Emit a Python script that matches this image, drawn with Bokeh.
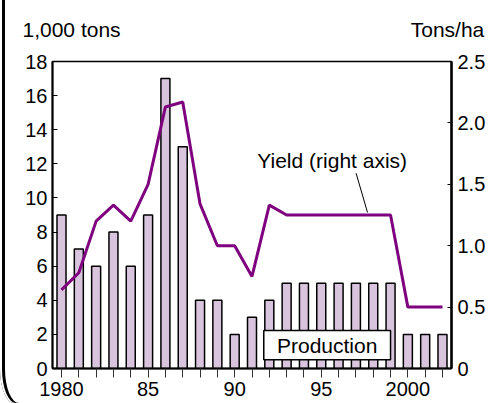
from bokeh.plotting import figure
from bokeh.models import Range1d, LinearAxis, FixedTicker, Label
from bokeh.embed import file_html
from bokeh.resources import INLINE

years = list(range(1980, 2003))
production = [9, 7, 6, 8, 6, 9, 17, 13, 4, 4, 2, 3, 4, 5, 5, 5, 5, 5, 5, 5, 2, 2, 2]
yield_t = [0.64, 0.78, 1.2, 1.33, 1.2, 1.5, 2.13, 2.17, 1.34, 1.0, 1.0, 0.75, 1.33,
           1.25, 1.25, 1.25, 1.25, 1.25, 1.25, 1.25, 0.5, 0.5, 0.5]
left_ticks = [0, 2, 4, 6, 8, 10, 12, 14, 16, 18]
right_ticks = [0, 0.5, 1.0, 1.5, 2.0, 2.5]
x_labels = {1980: "1980", 1985: "85", 1990: "90", 1995: "95", 2000: "2000"}
left_unit = "1,000 tons"
right_unit = "Tons/ha"

FONT = "Liberation Sans"
PURPLE = "#7F007F"
BAR = "#D8C5DD"

p = figure(width=491, height=403, output_backend="svg", toolbar_location=None,
           x_range=Range1d(1979.48, 2002.52), y_range=Range1d(0, 18),
           min_border_left=52, min_border_right=40, min_border_top=61, min_border_bottom=35)
p.extra_y_ranges = {"yield": Range1d(0, 2.5)}
p.xgrid.visible = False
p.ygrid.visible = False
p.outline_line_color = "black"
p.outline_line_width = 1.5
p.background_fill_color = "white"
p.border_fill_color = None
p.styles = {"box-shadow": "inset 2px 0 0 white, inset 5px 0 0 black",
            "border-bottom-left-radius": "14px 34px"}

p.vbar(x=years, top=production, width=0.52, bottom=0, fill_color=BAR,
       line_color="black", line_width=1.5)
p.line(x=years, y=yield_t, y_range_name="yield", line_color=PURPLE, line_width=3)

# left axis
ax = p.yaxis[0]
ax.ticker = FixedTicker(ticks=left_ticks)
ax.major_tick_in = 5
ax.major_tick_out = 0
ax.minor_tick_line_color = None
ax.major_label_standoff = 5
ax.major_label_text_font = FONT
ax.major_label_text_font_size = "20px"
ax.major_label_text_color = "black"
ax.axis_line_width = 2
ax.axis_line_color = "black"

# right axis
rax = LinearAxis(y_range_name="yield", ticker=FixedTicker(ticks=right_ticks))
rax.major_label_overrides = {0: "0", 0.5: "0.5", 1.0: "1.0", 1.5: "1.5", 2.0: "2.0", 2.5: "2.5"}
rax.major_tick_in = 4
rax.major_tick_out = 0
rax.minor_tick_line_color = None
rax.major_label_standoff = 6
rax.major_label_text_font = FONT
rax.major_label_text_font_size = "20px"
rax.major_label_text_color = "black"
rax.axis_line_width = 2.5
rax.axis_line_color = "black"
p.add_layout(rax, "right")

# bottom axis
bx = p.xaxis[0]
bx.ticker = FixedTicker(ticks=years)
bx.major_label_overrides = {y: x_labels.get(y, "") for y in years}
bx.major_tick_in = 0
bx.major_tick_out = 9
bx.major_tick_line_color = "#333333"
bx.minor_tick_line_color = None
bx.major_label_standoff = 4
bx.major_label_text_font = FONT
bx.major_label_text_font_size = "20px"
bx.major_label_text_color = "black"
bx.axis_line_width = 2
bx.axis_line_color = "black"

# unit labels, shown as the labels of an invisible top axis
uax = LinearAxis(ticker=FixedTicker(ticks=[1980.58, 2002.29]))
uax.major_label_overrides = {1980.58: left_unit, 2002.29: right_unit}
uax.axis_line_color = None
uax.major_tick_line_color = None
uax.minor_tick_line_color = None
uax.major_tick_in = 0
uax.major_tick_out = 0
uax.major_label_standoff = 21
uax.major_label_text_font = FONT
uax.major_label_text_font_size = "21px"
uax.major_label_text_color = "black"
p.add_layout(uax, "above")

# yield annotation
p.segment(x0=[1997.01], y0=[11.45], x1=[1997.67], y1=[9.15], line_color="black", line_width=1)
p.add_layout(Label(x=1995.63, y=12.2, text="Yield (right axis)", text_font=FONT,
                   text_font_size="21px", text_color="black", text_align="center",
                   text_baseline="alphabetic"))

# production box
p.quad(left=[1991.68], right=[1999.0], bottom=[0.51], top=[2.23], fill_color="white",
       line_color="black", line_width=1.5)
p.add_layout(Label(x=1995.34, y=1.37, text="Production", text_font=FONT,
                   text_font_size="21px", text_color="black", text_align="center",
                   text_baseline="middle"))

open("out.html", "w").write(file_html(p, INLINE))
